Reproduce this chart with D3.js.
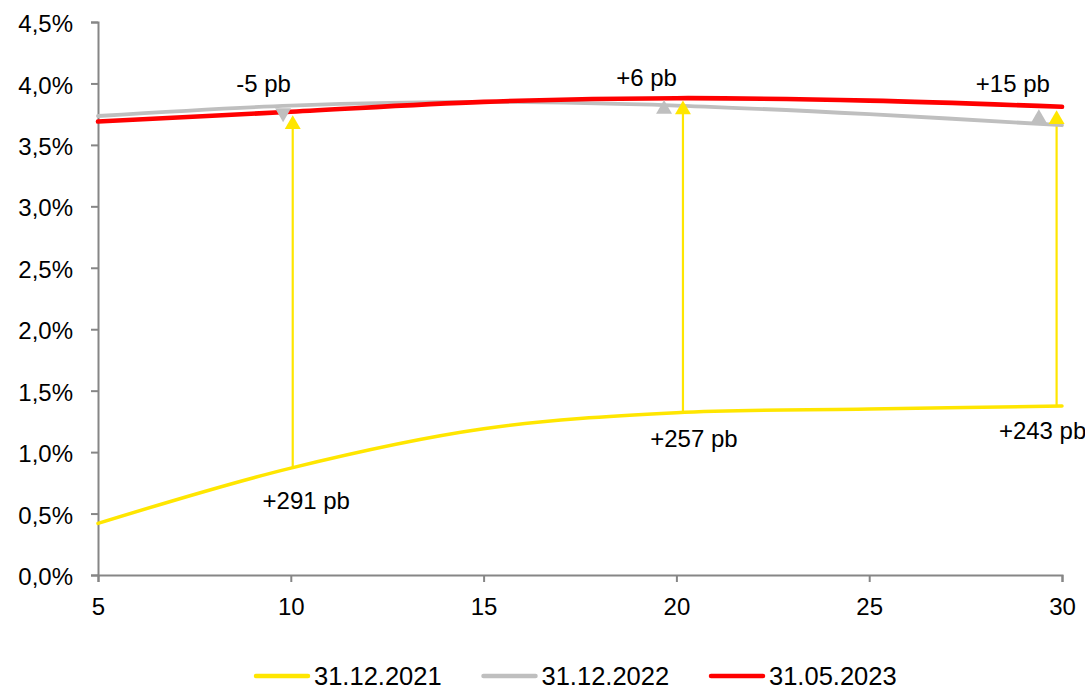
<!DOCTYPE html>
<html lang="es">
<head>
<meta charset="utf-8">
<script src="https://d3js.org/d3.v7.min.js"></script>
<style>
    body { margin: 0; background: #fff; }
    svg text { font-family: "Liberation Sans", Arial, sans-serif; fill: #000; }
</style>
</head>
<body>
<div id="graphique"></div>
<script>
    // plazos (años) y curvas
    const plazos = [5, 10, 15, 20, 25, 30];
    const curva2021 = [0.42, 0.87, 1.19, 1.32, 1.35, 1.375];
    const curva2022 = [3.735, 3.82, 3.85, 3.82, 3.75, 3.66];
    const curva2023 = [3.69, 3.77, 3.85, 3.88, 3.86, 3.81];
    const series = [
        { nom: "31.12.2021", valeurs: curva2021, couleur: "#FFE600", epaisseur: 3.5 },
        { nom: "31.12.2022", valeurs: curva2022, couleur: "#BFBFBF", epaisseur: 3.8 },
        { nom: "31.05.2023", valeurs: curva2023, couleur: "#FF0000", epaisseur: 4.6 }
    ];

    // flechas amarillas 2021 -> 2023
    const flecheX = [10.05, 20.17, 29.86];
    const flecheDe = [0.87, 1.32, 1.38];
    const flecheA = [3.74, 3.86, 3.78];
    const flecheTexte = ["+291 pb", "+257 pb", "+243 pb"];

    // marcas grises 2022 -> 2023
    const marqueX = [9.8, 19.68, 29.4];
    const marqueY = [3.76, 3.79, 3.715];
    const marqueSens = ["bas", "haut", "haut"];
    const marqueTexte = ["-5 pb", "+6 pb", "+15 pb"];

    const ticksY = [0, 0.5, 1, 1.5, 2, 2.5, 3, 3.5, 4, 4.5];
    const ticksX = [5, 10, 15, 20, 25, 30];

    const largeur = 1085, hauteur = 690;
    const marge = { haut: 22, droite: 23, bas: 115, gauche: 98 };

    const svg = d3.select("#graphique").append("svg")
        .attr("width", largeur).attr("height", hauteur);

    const x = d3.scaleLinear().domain([5, 30]).range([marge.gauche, largeur - marge.droite]);
    const y = d3.scaleLinear().domain([0, 4.5]).range([hauteur - marge.bas, marge.haut]);

    const gris = "#868686";
    const virgule = d => d3.format(".1f")(d).replace(".", ",") + "%";

    const axeY = svg.append("g")
        .attr("transform", `translate(${marge.gauche},0)`)
        .call(d3.axisLeft(y).tickValues(ticksY).tickFormat(virgule).tickSize(7).tickPadding(18));
    const axeX = svg.append("g")
        .attr("transform", `translate(0,${hauteur - marge.bas})`)
        .call(d3.axisBottom(x).tickValues(ticksX).tickSize(7).tickPadding(16));

    [axeY, axeX].forEach(a => {
        a.attr("font-size", 24).attr("font-family", "'Liberation Sans', Arial, sans-serif");
        a.select(".domain").attr("stroke", gris).attr("stroke-width", 2);
        a.selectAll(".tick line").attr("stroke", gris).attr("stroke-width", 2);
        a.selectAll(".tick text").attr("fill", "#000");
    });
    axeY.selectAll(".tick text").attr("dy", "0.4em");

    const ligne = d3.line()
        .x((d, i) => x(plazos[i]))
        .y(d => y(d))
        .curve(d3.curveCatmullRom.alpha(0.5));

    // flechas amarillas (debajo de las curvas)
    const triangle = d3.symbol().type(d3.symbolTriangle).size(110);
    flecheX.forEach((fx, i) => {
        svg.append("line")
            .attr("x1", x(fx)).attr("x2", x(fx))
            .attr("y1", y(flecheDe[i])).attr("y2", y(flecheA[i]) + 8)
            .attr("stroke", "#FFE600").attr("stroke-width", 2.2);
    });

    series.forEach(s => {
        svg.append("path")
            .datum(s.valeurs)
            .attr("d", ligne)
            .attr("fill", "none")
            .attr("stroke", s.couleur)
            .attr("stroke-width", s.epaisseur)
            .attr("stroke-linecap", "round");
    });

    flecheX.forEach((fx, i) => {
        svg.append("path")
            .attr("d", triangle)
            .attr("transform", `translate(${x(fx)},${y(flecheA[i]) + 9})`)
            .attr("fill", "#FFE600");
    });

    marqueX.forEach((mx, i) => {
        const rot = marqueSens[i] === "bas" ? 180 : 0;
        svg.append("path")
            .attr("d", triangle)
            .attr("transform", `translate(${x(mx)},${y(marqueY[i])}) rotate(${rot})`)
            .attr("fill", "#BFBFBF");
    });

    // etiquetas
    const decalFleche = [[13.5, 41], [11, 34], [-14, 34]];
    flecheTexte.forEach((t, i) => {
        svg.append("text")
            .attr("x", x(flecheX[i]) + decalFleche[i][0])
            .attr("y", y(flecheDe[i]) + decalFleche[i][1])
            .attr("text-anchor", "middle")
            .attr("font-size", 24)
            .text(t);
    });
    const decalMarque = [[-19.5, -21], [-17.5, -23], [-26, -26]];
    marqueTexte.forEach((t, i) => {
        svg.append("text")
            .attr("x", x(marqueX[i]) + decalMarque[i][0])
            .attr("y", y(marqueY[i]) + decalMarque[i][1])
            .attr("text-anchor", "middle")
            .attr("font-size", 24)
            .text(t);
    });

    // leyenda
    const legende = svg.append("g").attr("transform", "translate(256,676)");
    const posLegende = [0, 227.5, 455];
    series.forEach((s, i) => {
        const g = legende.append("g").attr("transform", `translate(${posLegende[i]},0)`);
        g.append("line").attr("x1", 0).attr("x2", 52).attr("y1", 0).attr("y2", 0)
            .attr("stroke", s.couleur).attr("stroke-width", 4.5).attr("stroke-linecap", "round");
        g.append("text").attr("x", 58).attr("y", 8.5).attr("font-size", 25.5)
            .text(s.nom);
    });
</script>
</body>
</html>
